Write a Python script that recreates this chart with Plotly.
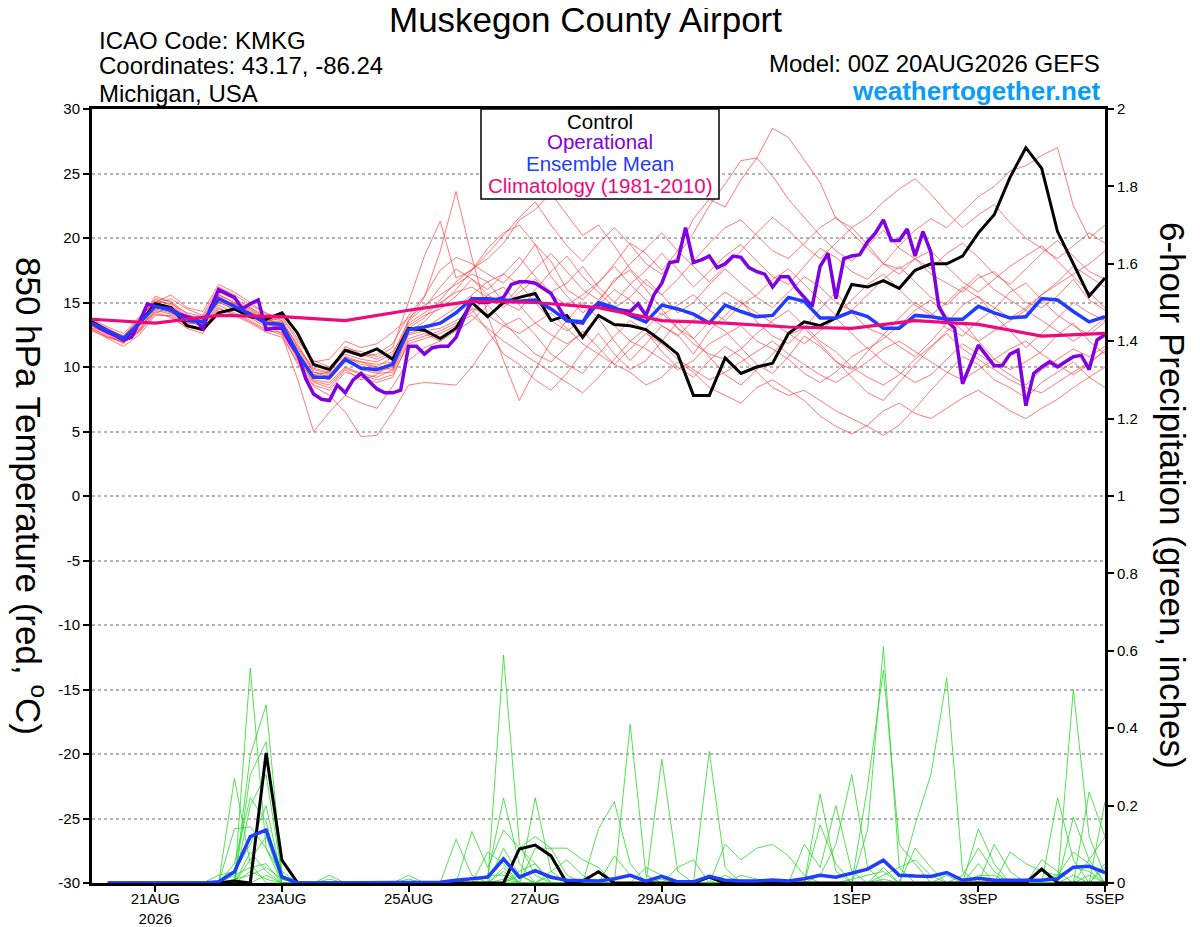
import pandas as pd
import plotly.graph_objects as go

# ---- time axes -------------------------------------------------------
t6 = pd.date_range("2026-08-20 00:00", periods=65, freq="6h")
t3 = pd.date_range("2026-08-20 00:00", periods=129, freq="3h")
tday = pd.date_range("2026-08-20 00:00", periods=17, freq="D")

tick_dates = ["2026-08-21", "2026-08-23", "2026-08-25", "2026-08-27",
              "2026-08-29", "2026-09-01", "2026-09-03", "2026-09-05"]
tick_labels = ["21AUG<br>2026", "23AUG", "25AUG", "27AUG", "29AUG", "1SEP", "3SEP", "5SEP"]
temp_ticks = [-30, -25, -20, -15, -10, -5, 0, 5, 10, 15, 20, 25, 30]

# ---- 850 hPa temperature (C) ---------------------------------------
control_t = [13.5, 12.8, 12.1, 13.4, 14.9, 14.6, 13.2, 12.9, 14.2, 14.5, 13.9, 13.7, 14.2,
             12.6, 10.2, 9.8, 11.3, 10.9, 11.4, 10.6, 13.0, 12.85, 12.2, 13.0,
             15.0, 13.9, 15.0, 15.4, 15.7, 13.6, 14.0, 12.3, 14.0, 13.3, 13.2, 12.9, 12.0, 11.0, 7.8, 7.8, 10.7,
             9.5, 10.0, 10.3, 12.6, 13.5, 13.2, 13.8, 16.4, 16.2, 16.7, 16.1, 17.5, 18.0, 18.0, 18.6, 20.4,
             21.8, 24.7, 27.0, 25.4, 20.5, 18.0, 15.5, 16.9]

mean_t = [13.4, 12.8, 12.2, 13.4, 14.7, 14.4, 13.6, 13.5, 15.3, 14.7, 14.1, 13.4, 13.3,
          11.0, 9.2, 9.2, 10.6, 9.9, 9.8, 10.2, 12.9, 13.1, 13.4, 14.2,
          15.3, 15.3, 15.2, 15.1, 15.2, 14.5, 13.6, 13.5, 15.0, 14.6, 14.0, 13.5, 14.8, 14.5, 14.1, 13.4, 14.8,
          14.3, 13.9, 14.0, 15.4, 15.1, 13.8, 13.8, 14.3, 13.9, 13.0, 13.0, 14.0, 13.9, 13.7, 13.7, 14.7,
          14.2, 13.8, 13.9, 15.3, 15.2, 14.3, 13.5, 13.9]

# operational run, 3-hourly
oper_t = [13.4, 13.0, 12.7, 12.4, 12.1, 12.3, 13.5, 14.9, 14.7, 14.6, 14.5, 14.1, 13.9, 13.7, 13.0, 14.6,
          16.0, 15.7, 15.4, 14.5, 14.9, 15.2, 12.9, 13.0, 13.0, 11.9, 11.0, 9.1, 7.9, 7.5, 7.4, 8.6,
          8.0, 9.0, 9.5, 8.9, 8.3, 8.0, 8.0, 8.2, 11.6, 11.6, 11.0, 11.5, 11.6, 11.6, 12.3,
          13.8, 15.3, 15.0, 15.0, 15.2, 15.4, 16.4, 16.6, 16.6, 16.5, 16.1, 15.7,
          14.6, 13.6, 13.5, 13.4, 14.5, 14.9, 14.7, 14.5, 14.4, 14.3,
          14.9, 14.0, 15.6, 16.5, 18.1, 18.2, 20.8, 18.1, 18.3, 18.6,
          17.7, 18.0, 18.6, 18.5, 17.7, 17.4, 17.2, 16.2, 17.0, 17.0,
          16.1, 15.4, 14.7, 17.8, 18.8, 15.3, 18.4, 18.6, 18.7, 19.7,
          20.4, 21.4, 19.8, 19.8, 20.7, 18.6, 20.5, 18.9, 14.7, 13.6,
          13.0, 8.7, 10.2, 11.7, 10.9, 10.1, 10.1, 11.0, 11.3, 7.0,
          9.5, 10.0, 10.4, 10.0, 10.4, 10.8, 10.9, 9.8, 12.1, 12.5]

# climatology, daily
clim_t = [13.7, 13.4, 14.0, 13.9, 13.6, 14.4, 15.1, 15.0, 14.6, 13.6, 13.4, 13.1, 13.0, 13.6, 13.3, 12.4, 12.6]

# ensemble members
member_t = [
    [13.2, 12.5, 11.8, 13.6, 15.5, 15.0, 13.9, 13.4, 15.9, 15.2, 14.4, 13.6, 13.8,
     12.0, 10.5, 10.0, 11.2, 10.8, 11.0, 11.8, 14.0, 15.5, 17.5, 18.5,
     18.0, 17.2, 16.5, 17.8, 19.5, 18.2, 16.0, 15.2, 16.5, 18.0, 19.6, 18.8, 17.5, 19.0, 21.5, 23.0, 22.4,
     24.5, 26.2, 28.5, 27.8, 26.0, 24.3, 21.5, 20.8, 19.5, 18.0, 17.6, 18.4, 17.2, 16.5, 15.8, 16.9,
     17.4, 16.2, 15.0, 14.6, 15.5, 16.8, 15.2, 14.4],
    [13.6, 13.0, 12.3, 13.2, 14.2, 14.6, 14.0, 13.8, 15.0, 14.9, 14.6, 13.9, 13.0,
     10.6, 8.8, 8.4, 9.8, 9.0, 9.4, 10.5, 13.6, 15.4, 19.0, 23.6,
     18.5, 14.0, 10.5, 7.4, 9.8, 12.0, 13.6, 15.0, 13.8, 12.0, 10.5, 11.8, 13.2, 12.5, 11.0, 12.8, 14.0,
     15.2, 13.5, 12.4, 11.8, 13.0, 14.5, 15.8, 14.2, 13.0, 12.5, 11.6, 10.8, 12.0, 13.4, 14.8, 15.5,
     14.0, 12.8, 11.5, 12.6, 13.8, 15.0, 14.2, 13.6],
    [13.0, 12.4, 11.9, 12.8, 14.9, 15.3, 14.5, 14.0, 16.2, 15.6, 14.8, 14.2, 13.6,
     11.5, 9.8, 9.5, 11.4, 11.2, 10.8, 11.5, 15.0, 18.6, 21.3, 16.9,
     17.5, 19.2, 20.4, 21.0, 19.5, 17.0, 15.5, 14.2, 15.0, 16.8, 17.5, 16.0, 14.5, 13.0, 12.2, 13.5, 12.8,
     11.5, 10.2, 9.5, 10.8, 12.4, 11.6, 10.4, 9.8, 11.2, 12.5, 13.8, 15.0, 14.2, 13.0, 12.4, 13.6,
     14.5, 15.8, 16.5, 15.2, 14.0, 13.2, 12.5, 13.5],
    [12.9, 12.2, 11.6, 12.5, 14.0, 14.0, 13.2, 12.8, 14.8, 14.2, 13.6, 12.9, 12.5,
     9.0, 5.0, 6.5, 7.8, 7.2, 6.8, 8.5, 10.5, 11.5, 12.0, 13.0,
     14.5, 12.8, 11.0, 10.2, 9.0, 8.2, 9.5, 11.2, 12.6, 11.0, 9.8, 10.5, 12.0, 13.5, 12.2, 10.8, 9.4,
     8.6, 9.8, 11.0, 12.5, 13.0, 11.8, 10.5, 9.2, 8.0, 7.4, 8.8, 10.2, 11.5, 12.8, 13.5, 12.0,
     10.6, 9.8, 10.4, 11.2, 12.5, 13.4, 12.0, 11.0],
    [13.3, 12.7, 12.0, 12.9, 14.5, 14.2, 13.5, 13.2, 15.5, 14.8, 14.0, 13.2, 12.6,
     10.2, 8.5, 7.8, 6.5, 4.6, 4.7, 6.5, 8.6, 8.8, 8.7, 8.6,
     10.0, 11.8, 13.2, 13.8, 12.5, 11.0, 10.2, 9.5, 11.0, 12.4, 13.6, 12.8, 11.2, 10.0, 9.2, 10.5, 11.6,
     10.8, 9.6, 8.4, 7.8, 8.2, 7.4, 6.6, 6.0, 5.4, 4.7, 5.5, 6.8, 8.2, 9.5, 10.8, 10.2,
     9.0, 8.4, 7.6, 8.8, 9.6, 10.4, 9.2, 8.4],
    [13.5, 12.9, 12.4, 13.8, 15.2, 14.8, 13.8, 13.6, 15.6, 15.0, 14.3, 13.5, 13.4,
     11.8, 9.6, 9.2, 10.8, 10.2, 10.0, 10.8, 13.2, 14.0, 14.5, 15.5,
     16.8, 16.0, 17.2, 18.5, 17.0, 15.8, 16.5, 17.8, 16.2, 15.0, 16.4, 17.5, 18.8, 17.6, 16.2, 17.4, 18.6,
     19.5, 18.2, 17.0, 16.4, 17.8, 19.2, 18.5, 17.4, 16.8, 18.0, 19.4, 20.6, 21.5, 20.8, 22.0, 23.2,
     24.0, 25.2, 25.6, 26.4, 27.0, 22.5, 20.0, 21.0],
    [13.1, 12.6, 12.1, 13.0, 14.4, 14.1, 13.3, 13.0, 15.0, 14.5, 13.8, 13.1, 12.9,
     10.8, 9.0, 8.8, 10.0, 9.5, 9.2, 9.8, 12.5, 12.8, 13.0, 13.6,
     14.2, 15.6, 16.2, 14.8, 13.4, 12.5, 11.8, 12.6, 14.0, 13.2, 12.0, 11.4, 10.6, 9.8, 10.5, 11.8, 12.5,
     13.2, 12.0, 11.4, 10.6, 9.5, 8.8, 9.6, 10.8, 11.5, 10.4, 9.6, 8.8, 9.4, 10.6, 11.8, 11.0,
     10.2, 9.4, 8.6, 9.8, 10.6, 11.4, 10.8, 11.6],
    [13.7, 13.1, 12.6, 13.9, 15.0, 15.6, 14.6, 14.3, 16.4, 15.8, 15.0, 14.1, 13.9,
     12.2, 10.4, 10.6, 12.0, 11.5, 11.8, 12.7, 13.8, 14.8, 15.6, 16.4,
     17.2, 16.6, 15.0, 14.4, 16.0, 17.4, 18.6, 17.0, 15.8, 14.6, 15.4, 16.8, 15.6, 14.2, 15.0, 16.4, 17.6,
     16.5, 15.4, 14.6, 15.8, 17.0, 16.2, 15.0, 14.4, 15.6, 16.8, 17.8, 16.6, 15.4, 14.8, 16.0, 17.2,
     16.0, 15.2, 14.4, 15.6, 16.6, 17.8, 17.0, 16.2],
    [13.4, 12.9, 12.2, 13.5, 14.8, 14.3, 13.7, 13.7, 15.2, 14.6, 14.2, 13.6, 13.5,
     11.2, 9.4, 9.0, 10.4, 10.0, 9.6, 10.0, 12.8, 13.5, 14.8, 16.0,
     17.5, 18.8, 20.2, 21.6, 22.8, 21.0, 19.4, 18.2, 19.6, 20.8, 19.5, 18.0, 17.2, 18.6, 20.4, 22.5, 24.2,
     26.0, 26.2, 24.8, 23.0, 21.6, 20.2, 19.0, 18.2, 19.4, 20.6, 19.2, 18.4, 17.6, 18.8, 19.6, 18.5,
     17.2, 16.4, 17.6, 18.8, 19.8, 18.6, 17.4, 16.8],
    [13.2, 12.7, 12.3, 13.3, 14.6, 14.5, 13.4, 13.3, 15.1, 14.4, 13.9, 13.3, 13.1,
     11.0, 9.3, 9.0, 10.5, 9.8, 9.5, 9.6, 12.2, 12.6, 12.0, 12.8,
     13.6, 14.8, 13.5, 12.2, 11.0, 10.4, 11.6, 12.8, 11.5, 10.2, 9.6, 8.6, 9.2, 10.4, 9.6, 8.4, 7.8,
     7.2, 8.4, 9.0, 8.2, 7.4, 6.2, 5.4, 4.8, 5.5, 6.6, 7.2, 6.4, 6.0, 6.8, 7.6, 8.2,
     7.4, 6.6, 6.0, 6.8, 7.5, 8.4, 9.2, 10.0],
    [13.5, 12.8, 12.2, 13.5, 15.0, 14.6, 13.8, 13.8, 15.4, 14.8, 14.0, 13.5, 13.2,
     11.4, 9.6, 9.4, 10.8, 10.4, 10.2, 10.4, 13.4, 14.2, 15.0, 15.8,
     16.2, 15.4, 14.6, 15.8, 16.8, 15.6, 14.8, 15.6, 16.6, 17.8, 16.4, 15.2, 14.0, 14.8, 15.6, 14.4, 13.6,
     14.8, 15.6, 16.8, 17.6, 16.4, 15.2, 14.0, 15.2, 16.4, 17.2, 16.0, 14.8, 14.0, 15.0, 16.2, 15.4,
     14.6, 13.8, 14.6, 15.6, 16.4, 17.2, 18.0, 19.0],
    [13.0, 12.3, 11.9, 12.7, 14.3, 13.8, 13.1, 12.9, 14.6, 14.0, 13.4, 12.7, 12.3,
     10.4, 8.6, 8.2, 9.6, 9.2, 8.8, 9.2, 12.0, 12.4, 12.8, 13.4,
     14.0, 13.0, 12.0, 11.2, 10.4, 9.6, 8.8, 8.0, 9.2, 10.6, 12.0, 13.0, 14.2, 13.0, 11.8, 11.0, 10.6,
     11.4, 12.6, 13.6, 14.4, 13.2, 12.0, 11.2, 10.0, 9.2, 8.6, 9.4, 10.6, 11.6, 12.6, 11.4, 10.6,
     9.8, 9.0, 8.4, 8.0, 8.8, 9.6, 10.4, 11.2],
    [13.4, 12.6, 12.0, 13.2, 14.9, 14.2, 13.6, 13.4, 15.6, 15.0, 14.2, 13.3, 13.0,
     11.2, 9.2, 9.1, 10.6, 10.4, 10.0, 9.8, 12.6, 13.0, 13.8, 14.6,
     15.6, 16.6, 17.2, 16.4, 15.0, 13.6, 12.8, 13.6, 14.8, 16.0, 15.2, 14.0, 13.2, 12.4, 13.6, 14.8, 15.8,
     15.0, 14.2, 13.4, 12.6, 11.8, 12.8, 13.8, 12.6, 11.4, 12.2, 13.2, 14.4, 15.2, 14.0, 12.8, 12.0,
     12.8, 13.6, 14.4, 13.6, 12.8, 12.0, 12.8, 13.8],
    [13.6, 12.9, 12.4, 13.6, 15.1, 14.9, 14.2, 13.9, 15.8, 15.3, 14.6, 13.8, 13.6,
     11.6, 9.9, 9.6, 11.0, 10.6, 10.4, 11.0, 13.6, 14.6, 16.2, 17.6,
     16.8, 15.6, 14.8, 16.2, 17.6, 18.8, 17.4, 16.0, 15.2, 16.6, 18.0, 19.2, 20.4, 19.0, 17.8, 16.6, 17.8,
     19.0, 20.4, 21.6, 20.6, 19.4, 18.4, 19.6, 20.8, 21.6, 22.8, 23.8, 24.6, 23.4, 22.0, 20.8, 21.8,
     22.6, 21.2, 20.0, 19.2, 18.4, 19.4, 20.4, 19.6],
    [13.3, 12.8, 12.4, 13.7, 15.3, 15.1, 14.1, 13.5, 15.3, 14.9, 14.5, 13.7, 13.3,
     11.0, 9.4, 9.6, 11.6, 11.0, 10.6, 11.2, 13.0, 13.8, 15.2, 16.6,
     17.6, 18.4, 19.6, 21.4, 22.2, 23.5, 21.8, 20.2, 21.0, 19.4, 17.6, 16.4, 15.6, 16.8, 18.2, 19.6, 20.8,
     21.4, 20.2, 19.0, 18.4, 19.6, 20.8, 21.6, 20.4, 19.2, 18.0, 17.2, 18.4, 19.0, 17.8, 16.6, 15.8,
     16.8, 17.8, 18.6, 19.4, 18.2, 17.0, 15.8, 14.6],
    [12.8, 12.3, 12.0, 12.8, 14.1, 13.9, 13.0, 12.6, 14.5, 14.1, 13.5, 12.8, 12.7,
     10.6, 8.9, 8.6, 9.9, 9.4, 9.0, 9.4, 11.8, 12.2, 12.6, 13.2,
     14.6, 14.0, 13.2, 12.6, 13.4, 14.2, 13.0, 11.8, 11.0, 10.2, 11.4, 12.6, 11.8, 10.6, 9.8, 9.0, 9.6,
     10.4, 11.2, 12.0, 11.0, 10.2, 9.4, 8.8, 9.6, 10.4, 11.4, 12.0, 11.2, 10.4, 9.6, 9.0, 9.8,
     10.6, 11.4, 12.0, 11.0, 10.2, 9.4, 10.2, 11.4],
]

# ---- 6-hour precipitation (inches), 06Z 20AUG onward ---------------
control_p = [0, 0, 0, 0, 0, 0, 0, 0,
             .005, 0, .336, .059, 0, 0, 0, 0,
             0, 0, 0, 0, 0, 0, 0, 0,
             0, 0, .088, .098, .07, 0, .005, .029,
             0, 0, 0, 0, 0, 0, .015, 0,
             0, 0, 0, 0, 0, 0, 0, 0,
             0, 0, 0, 0, 0, 0, 0, 0,
             0, 0, 0, .036, 0, 0, 0, 0]

mean_p = [0, 0, 0, 0, 0, 0, 0, .003,
          .029, .12, .137, .016, 0, 0, 0, 0,
          0, 0, 0, 0, 0, .002, .007, .010,
          .015, .062, .015, .032, .015, .007, .006, .005,
          .011, .020, .005, .017, .003, .003, .017, .007,
          .005, .005, .008, .005, .011, .020, .015, .025,
          .036, .059, .020, .018, .017, .027, .007, .012,
          .007, .007, .007, .007, .011, .041, .043, .027]

member_p = [
    [0, 0, 0, 0, 0, 0, 0, 0, .27, .05, 0, 0, 0, 0, 0, 0,
     0, 0, 0, 0, 0, 0, 0, 0, 0, .09, .02, 0, 0, 0, 0, 0,
     0, .41, .02, 0, 0, 0, 0, 0, 0, 0, 0, 0, 0, 0, 0, 0,
     0, .04, 0, 0, 0, 0, 0, 0, 0, 0, 0, 0, .22, .06, 0, 0],
    [0, 0, 0, 0, 0, 0, 0, 0, 0, .555, .09, .02, 0, 0, 0, 0,
     0, 0, 0, 0, 0, 0, 0, 0, 0, .589, .10, .02, 0, 0, 0, 0,
     0, 0, 0, 0, 0, 0, 0, 0, 0, 0, 0, 0, 0, .02, .10, .28,
     .04, 0, 0, 0, 0, 0, 0, .05, 0, 0, 0, 0, 0, 0, .235, .12],
    [0, 0, 0, 0, 0, 0, 0, 0, 0, .33, .46, .03, 0, 0, 0, 0,
     0, 0, 0, 0, 0, 0, 0, 0, .02, .22, .05, 0, 0, 0, 0, 0,
     0, 0, 0, .32, .03, 0, 0, 0, 0, 0, 0, 0, 0, 0, 0, 0,
     .137, .61, .04, 0, 0, 0, 0, 0, 0, 0, 0, 0, 0, .02, 0, 0],
    [0, 0, 0, 0, 0, 0, 0, 0, 0, .28, .365, .01, 0, 0, 0, 0,
     0, 0, 0, 0, 0, 0, .113, .02, 0, 0, 0, .22, .03, 0, 0, 0,
     0, 0, 0, 0, 0, 0, .34, .04, 0, 0, 0, 0, 0, 0, 0, 0,
     0, 0, 0, .15, .28, .53, .03, 0, 0, 0, 0, 0, 0, 0, 0, .21],
    [0, 0, 0, 0, 0, 0, 0, 0, .05, .22, .16, 0, 0, 0, 0, 0,
     0, 0, 0, 0, 0, 0, 0, .133, .04, .137, .09, .12, .09, .09, .06, .04,
     0, 0, 0, 0, 0, 0, 0, 0, 0, 0, 0, 0, 0, .23, .03, 0,
     0, 0, 0, 0, 0, 0, 0, 0, 0, 0, 0, 0, 0, .50, .12, .02],
    [0, 0, 0, 0, 0, 0, 0, 0, 0, .20, .28, .02, 0, 0, .02, 0,
     0, 0, 0, 0, 0, 0, 0, 0, 0, 0, 0, 0, .03, .06, .02, 0,
     0, 0, 0, 0, 0, 0, 0, .10, .06, .09, .10, .07, .02, 0, 0, 0,
     0, 0, 0, 0, 0, 0, 0, 0, .10, .03, 0, 0, 0, 0, 0, 0],
    [0, 0, 0, 0, 0, 0, 0, 0, .14, .145, .09, 0, 0, 0, 0, 0,
     0, 0, 0, .02, 0, 0, 0, 0, .08, .05, 0, 0, 0, 0, 0, .14,
     .21, .05, 0, 0, 0, 0, 0, 0, 0, 0, 0, 0, 0, 0, 0, 0,
     .25, .55, .10, .05, 0, 0, 0, 0, 0, 0, 0, .06, .03, 0, 0, 0],
    [0, 0, 0, 0, 0, 0, 0, .02, .03, .10, .20, .01, 0, 0, 0, 0,
     0, 0, 0, 0, 0, 0, 0, 0, 0, 0, .09, .05, 0, 0, 0, 0,
     .07, .02, 0, 0, .04, .06, 0, 0, 0, 0, 0, 0, 0, .15, .05, 0,
     0, 0, 0, .09, .04, 0, 0, .14, .05, 0, 0, 0, 0, 0, .06, 0],
    [0, 0, 0, 0, 0, 0, 0, 0, 0, .06, .12, 0, 0, 0, 0, 0,
     0, 0, 0, 0, 0, 0, 0, 0, 0, .03, 0, .09, .09, .02, 0, 0,
     0, 0, 0, 0, 0, 0, 0, 0, 0, 0, 0, 0, .10, .04, .20, .03,
     0, 0, 0, 0, 0, 0, .02, .09, .03, 0, 0, 0, 0, .17, .06, .12],
    [0, 0, 0, 0, 0, 0, 0, 0, .02, .04, .05, 0, 0, 0, 0, 0,
     0, 0, 0, 0, 0, 0, 0, 0, 0, .04, 0, 0, 0, 0, 0, 0,
     0, 0, .04, .02, 0, 0, 0, 0, 0, 0, 0, 0, 0, 0, 0, 0,
     0, .02, .04, .06, .02, 0, 0, 0, 0, .08, .05, .03, .02, .04, .03, 0],
    [0, 0, 0, 0, 0, 0, 0, 0, 0, .08, .03, 0, 0, 0, 0, 0,
     0, 0, 0, 0, 0, 0, 0, .01, .02, .02, 0, 0, 0, 0, 0, 0,
     0, 0, 0, 0, 0, 0, 0, 0, .02, .01, 0, 0, 0, 0, 0, 0,
     0, 0, 0, 0, 0, 0, 0, .02, .02, 0, 0, 0, 0, 0, 0, .04],
    [0, 0, 0, 0, 0, 0, 0, 0, .01, .02, .04, .01, 0, 0, 0, 0,
     0, 0, 0, 0, 0, 0, 0, 0, 0, 0, .03, .05, 0, 0, 0, 0,
     0, 0, 0, 0, 0, 0, 0, 0, 0, 0, 0, 0, 0, 0, 0, .01,
     .02, .03, 0, 0, 0, 0, 0, 0, 0, 0, 0, .01, .02, .08, .05, 0],
    [0, 0, 0, 0, 0, 0, 0, 0, 0, 0, .02, 0, 0, 0, .01, 0,
     0, 0, 0, 0, 0, 0, 0, 0, 0, .01, 0, 0, .02, 0, 0, 0,
     0, 0, 0, .01, 0, 0, 0, 0, 0, 0, 0, 0, 0, 0, 0, 0,
     0, .01, 0, 0, 0, 0, 0, 0, 0, 0, .01, 0, 0, 0, .02, 0],
    [0, 0, 0, 0, 0, 0, 0, 0, 0, .03, .01, 0, 0, 0, 0, 0,
     0, 0, 0, .01, 0, 0, 0, 0, 0, 0, .02, 0, 0, 0, 0, 0,
     0, 0, 0, 0, 0, 0, 0, .02, 0, 0, 0, 0, 0, 0, 0, 0,
     0, 0, 0, 0, 0, .02, 0, 0, 0, 0, 0, 0, 0, 0, 0, .05],
]

FONT = "Liberation Sans, Arial, Helvetica, sans-serif"
RED = "rgba(255,50,50,0.72)"
GREEN = "rgba(30,215,30,0.85)"
PURPLE = "#7f00e0"
BLUE = "#1f3cff"
PINK = "#ee0a7c"

# the page adds an 8px body margin, so the figure is 8px smaller each way
# plot area in page pixels: x 92..1105, y 109..883
def px(x):
    return (x - 92) / 1013.0

def py(y):
    return (883 - y) / 774.0


fig = go.Figure()

for m in member_t:
    fig.add_trace(go.Scatter(x=t6, y=m, mode="lines", line=dict(color=RED, width=0.9),
                             hoverinfo="skip"))
for g in member_p:
    fig.add_trace(go.Scatter(x=t6[1:], y=g, mode="lines", line=dict(color=GREEN, width=0.9),
                             yaxis="y2", hoverinfo="skip"))

fig.add_trace(go.Scatter(x=t6[1:], y=control_p, mode="lines", line=dict(color="black", width=3),
                         yaxis="y2"))
fig.add_trace(go.Scatter(x=t6[1:], y=mean_p, mode="lines", line=dict(color=BLUE, width=3.5),
                         yaxis="y2"))

fig.add_trace(go.Scatter(x=t6, y=control_t, mode="lines", line=dict(color="black", width=3)))
fig.add_trace(go.Scatter(x=t3, y=oper_t, mode="lines", line=dict(color=PURPLE, width=3.5)))
fig.add_trace(go.Scatter(x=t6, y=mean_t, mode="lines", line=dict(color=BLUE, width=3.5)))
fig.add_trace(go.Scatter(x=tday, y=clim_t, mode="lines", line=dict(color=PINK, width=3.2)))

fig.update_layout(
    width=1192, height=919,
    margin=dict(l=84, r=95, t=101, b=44, autoexpand=False),
    paper_bgcolor="white", plot_bgcolor="white",
    showlegend=False,
    font=dict(family=FONT, color="black", size=15),
    xaxis=dict(type="date", range=[t6[0], t6[-1]], automargin=False,
               tickvals=tick_dates, ticktext=tick_labels, ticklabelstandoff=-6,
               ticks="outside", ticklen=6, tickwidth=1.5, tickcolor="black",
               showline=True, linewidth=3, linecolor="black", mirror=True,
               showgrid=False, zeroline=False, tickfont=dict(size=15)),
    yaxis=dict(range=[-30, 30], automargin=False,
               tickvals=temp_ticks, ticktext=[str(v) for v in temp_ticks],
               ticks="outside", ticklen=6, tickwidth=1.5, tickcolor="black",
               showline=True, linewidth=3, linecolor="black",
               showgrid=True, gridcolor="#b4b4b4", gridwidth=1.5, griddash="dot",
               zeroline=False, tickfont=dict(size=15)),
    yaxis2=dict(range=[0, 2], tick0=0, dtick=0.2, overlaying="y", side="right", automargin=False,
                ticks="outside", ticklen=6, tickwidth=1.5, tickcolor="black",
                showline=True, linewidth=3, linecolor="black",
                showgrid=False, zeroline=False, tickfont=dict(size=15)),
)

# legend box
fig.add_shape(type="rect", xref="paper", yref="paper",
              x0=px(481), x1=px(719), y0=py(199), y1=py(109),
              line=dict(color="black", width=1.5), fillcolor="white", layer="above")

legend_items = [("Control", "black", 121), ("Operational", PURPLE, 142),
                ("Ensemble Mean", BLUE, 163.5), ("Climatology (1981-2010)", PINK, 185)]
for text, color, y in legend_items:
    fig.add_annotation(text=text, x=px(600), y=py(y), xref="paper", yref="paper",
                       xanchor="center", yanchor="middle", showarrow=False,
                       font=dict(size=20.5, color=color, family=FONT))

# header texts
fig.add_annotation(text="Muskegon County Airport", x=px(585), y=py(20), xref="paper", yref="paper",
                   xanchor="center", yanchor="middle", showarrow=False,
                   font=dict(size=35, family=FONT))
for text, y in [("ICAO Code: KMKG", 40), ("Coordinates: 43.17, -86.24", 66), ("Michigan, USA", 93)]:
    fig.add_annotation(text=text, x=px(97), y=py(y), xref="paper", yref="paper",
                       xanchor="left", yanchor="middle", showarrow=False,
                       font=dict(size=24, family=FONT))
fig.add_annotation(text="Model: 00Z 20AUG2026 GEFS", x=px(1102), y=py(64), xref="paper", yref="paper",
                   xanchor="right", yanchor="middle", showarrow=False,
                   font=dict(size=24, family=FONT))
fig.add_annotation(text="<b>weathertogether.net</b>", x=px(1102), y=py(91), xref="paper", yref="paper",
                   xanchor="right", yanchor="middle", showarrow=False,
                   font=dict(size=26, family=FONT, color="#0a9df5"))

# axis titles
fig.add_annotation(text="850 hPa Temperature (red, <sup>o</sup>C)", x=px(31), y=py(496),
                   xref="paper", yref="paper", xanchor="center", yanchor="middle",
                   textangle=90, showarrow=False, font=dict(size=35, family=FONT))
fig.add_annotation(text="6-hour Precipitation (green, inches)", x=px(1172), y=py(495),
                   xref="paper", yref="paper", xanchor="center", yanchor="middle",
                   textangle=90, showarrow=False, font=dict(size=35, family=FONT))

fig.write_html("out.html")
